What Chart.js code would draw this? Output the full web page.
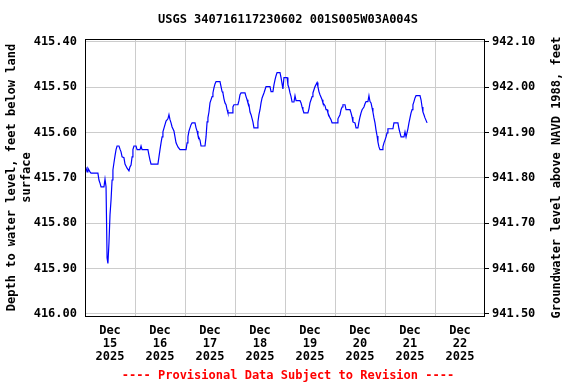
<!DOCTYPE html>
<html>
<head>
<meta charset="utf-8">
<title>USGS 340716117230602 001S005W03A004S</title>
<script src="https://cdn.jsdelivr.net/npm/chart.js@4/dist/chart.umd.min.js"></script>
<style>
    html, body { margin: 0; padding: 0; background: #fff; }
    canvas { display: block; }
</style>
</head>
<body>
<canvas id="chart" width="576" height="384"></canvas>
<script>
var siteTitle = 'USGS 340716117230602 001S005W03A004S';
var footerText = '---- Provisional Data Subject to Revision ----';

// hours since Dec 15 2025 00:00
var hoursSinceStart = [
    0, 0.5, 1.0, 1.4, 2.4, 2.9, 6.2, 6.7, 7.2, 7.7, 9.1, 9.6, 10.1, 10.6, 11.0, 11.5, 12.0, 12.5, 13.0, 13.4,
    13.9, 14.4, 14.9, 15.4, 16.3, 16.8, 17.3, 17.8, 18.7, 19.2, 20.2, 21.1, 21.6, 22.1, 22.6, 23.0, 23.5, 24.5, 25.0, 26.4,
    26.9, 27.4, 30.2, 30.7, 31.2, 31.7, 35.0, 35.5, 36.0, 36.5, 37.0, 37.4, 38.4, 38.9, 39.8, 40.3, 40.8, 41.3, 41.8, 42.7,
    43.2, 43.7, 44.6, 45.6, 48.5, 49.0, 49.4, 49.9, 50.9, 51.4, 52.8, 53.3, 53.8, 54.2, 55.2, 55.7, 57.6, 58.1, 58.6, 59.0,
    59.5, 60.0, 61.0, 61.4, 61.9, 62.4, 62.9, 64.8, 65.3, 65.8, 66.2, 66.7, 67.2, 67.7, 68.2, 68.6, 70.6, 71.0, 71.5, 73.4,
    73.9, 74.4, 74.9, 76.8, 77.3, 77.8, 78.2, 78.7, 79.2, 79.7, 80.6, 81.1, 82.6, 83.0, 83.5, 84.0, 84.5, 85.0, 85.9, 86.4,
    86.9, 88.8, 89.3, 90.2, 90.7, 91.2, 91.7, 92.2, 93.6, 94.1, 94.6, 95.0, 95.5, 97.0, 97.4, 97.9, 98.4, 98.9, 99.4, 100.3,
    100.8, 101.3, 103.2, 103.7, 104.2, 104.6, 105.1, 107.0, 107.5, 108.0, 108.5, 109.0, 109.4, 109.9, 110.4, 111.4, 111.8, 112.3, 112.8, 113.8,
    114.2, 115.2, 115.7, 116.2, 116.6, 117.6, 118.1, 118.6, 121.0, 121.4, 122.4, 122.9, 123.4, 123.8, 124.8, 125.3, 127.2, 127.7, 128.2, 128.6,
    129.6, 130.1, 131.0, 131.5, 132.0, 132.5, 133.0, 133.9, 134.4, 134.9, 135.8, 136.3, 136.8, 137.3, 137.8, 138.2, 138.7, 139.2, 139.7, 140.2,
    140.6, 141.1, 141.6, 142.6, 143.0, 143.5, 144.0, 144.5, 145.0, 145.4, 147.8, 148.3, 150.2, 150.7, 151.2, 151.7, 153.1, 153.6, 154.1, 155.0,
    155.5, 156.0, 156.5, 157.0, 157.4, 157.9, 158.4, 158.9, 160.8, 161.3, 161.8, 162.2, 162.7, 163.2, 164.2
];

// depth to water level, feet below land surface
var depthFt = [
    415.683, 415.679, 415.687, 415.679, 415.687, 415.690, 415.690, 415.705, 415.712, 415.720, 415.720, 415.703, 415.720, 415.877, 415.889, 415.844, 415.782, 415.749, 415.705, 415.683,
    415.667, 415.652, 415.638, 415.630, 415.630, 415.637, 415.643, 415.654, 415.656, 415.670, 415.679, 415.685, 415.676, 415.672, 415.654, 415.638, 415.630, 415.630, 415.638, 415.638,
    415.630, 415.638, 415.638, 415.650, 415.661, 415.670, 415.670, 415.654, 415.638, 415.623, 415.610, 415.599, 415.583, 415.575, 415.570, 415.561, 415.572, 415.579, 415.588, 415.597,
    415.610, 415.623, 415.632, 415.638, 415.638, 415.623, 415.610, 415.597, 415.583, 415.579, 415.579, 415.590, 415.597, 415.606, 415.617, 415.630, 415.630, 415.610, 415.577, 415.568,
    415.555, 415.535, 415.521, 415.513, 415.502, 415.493, 415.488, 415.488, 415.499, 415.510, 415.513, 415.526, 415.535, 415.539, 415.550, 415.557, 415.557, 415.544, 415.539, 415.539,
    415.530, 415.517, 415.513, 415.513, 415.521, 415.528, 415.535, 415.539, 415.555, 415.561, 415.577, 415.590, 415.590, 415.577, 415.561, 415.550, 415.535, 415.524, 415.513, 415.506,
    415.499, 415.499, 415.510, 415.510, 415.495, 415.484, 415.475, 415.468, 415.468, 415.479, 415.493, 415.504, 415.479, 415.479, 415.495, 415.502, 415.513, 415.521, 415.533, 415.533,
    415.519, 415.530, 415.530, 415.535, 415.544, 415.550, 415.557, 415.557, 415.548, 415.535, 415.528, 415.521, 415.513, 415.506, 415.499, 415.490, 415.499, 415.510, 415.517, 415.528,
    415.535, 415.541, 415.550, 415.550, 415.557, 415.568, 415.572, 415.579, 415.579, 415.570, 415.561, 415.550, 415.544, 415.539, 415.539, 415.550, 415.550, 415.557, 415.566, 415.577,
    415.579, 415.590, 415.590, 415.577, 415.566, 415.557, 415.550, 415.544, 415.537, 415.532, 415.532, 415.519, 415.532, 415.535, 415.546, 415.555, 415.568, 415.579, 415.595, 415.608,
    415.621, 415.632, 415.638, 415.638, 415.632, 415.623, 415.617, 415.610, 415.601, 415.592, 415.592, 415.579, 415.579, 415.592, 415.601, 415.610, 415.610, 415.599, 415.610, 415.592,
    415.579, 415.568, 415.557, 415.550, 415.539, 415.532, 415.524, 415.519, 415.519, 415.528, 415.544, 415.555, 415.561, 415.568, 415.579
];

var monthLabel = 'Dec';
var yearLabel = '2025';
var dayLabels = ['15', '16', '17', '18', '19', '20', '21', '22'];
var depthTicks = [415.40, 415.50, 415.60, 415.70, 415.80, 415.90, 416.00];
var elevationTicks = [941.50, 941.60, 941.70, 941.80, 941.90, 942.00, 942.10];
var datumSum = 1357.50; // depth + elevation

var depthMin = 415.394, depthMax = 416.005;

var points = hoursSinceStart.map(function (h, i) {
    return { x: h, y: depthFt[i] };
});

Chart.defaults.font.family = "'DejaVu Sans Mono', 'Liberation Mono', monospace";
Chart.defaults.font.size = 12;
Chart.defaults.font.weight = 'bold';
Chart.defaults.color = '#000';

var framePlugin = {
    id: 'frame',
    afterDraw: function (chart) {
        var ctx = chart.ctx;
        var a = chart.chartArea;
        ctx.save();
        ctx.strokeStyle = '#000';
        ctx.lineWidth = 1;
        ctx.strokeRect(Math.round(a.left) + 0.5, Math.round(a.top) + 0.5,
            Math.round(a.right - a.left) - 1, Math.round(a.bottom - a.top));
        // right axis title, reads bottom to top
        ctx.translate(557, (a.top + a.bottom) / 2);
        ctx.rotate(-Math.PI / 2);
        ctx.font = "bold 12px 'DejaVu Sans Mono', monospace";
        ctx.fillStyle = '#000';
        ctx.textAlign = 'center';
        ctx.textBaseline = 'middle';
        ctx.fillText('Groundwater level above NAVD 1988, feet', 0, 0);
        ctx.restore();
    }
};

new Chart(document.getElementById('chart'), {
    type: 'line',
    data: {
        datasets: [{
            data: points,
            borderColor: '#0000ff',
            borderWidth: 1.2,
            pointRadius: 0,
            fill: false,
            tension: 0
        }]
    },
    options: {
        responsive: false,
        animation: false,
        layout: { padding: 0 },
        plugins: {
            legend: { display: false },
            tooltip: { enabled: false },
            title: {
                display: true,
                text: siteTitle,
                font: { size: 12, weight: 'bold', lineHeight: 1.2 },
                padding: { top: 13, bottom: 11.6 }
            },
            subtitle: {
                display: true,
                position: 'bottom',
                text: footerText,
                color: '#ff0000',
                font: { size: 12, weight: 'bold', lineHeight: 1.2 },
                padding: { top: 5, bottom: 1 }
            }
        },
        scales: {
            x: {
                type: 'linear',
                min: 0,
                max: 192,
                afterBuildTicks: function (scale) {
                    var t = [];
                    for (var h = 0; h <= 192; h += 12) t.push({ value: h });
                    scale.ticks = t;
                },
                afterFit: function (scale) { scale.height = 47.6; },
                grid: {
                    drawTicks: false,
                    color: function (c) {
                        var v = c.tick ? c.tick.value : -1;
                        return (v > 0 && v < 192 && v % 24 === 0) ? '#cccccc' : 'rgba(0,0,0,0)';
                    }
                },
                border: { display: false },
                ticks: {
                    autoSkip: false,
                    maxRotation: 0,
                    padding: 8,
                    font: { size: 12, weight: 'bold', lineHeight: 1.1 },
                    callback: function (value) {
                        if (value % 24 !== 12) return '';
                        var i = (value - 12) / 24;
                        return [monthLabel, dayLabels[i], yearLabel];
                    }
                }
            },
            y: {
                position: 'left',
                reverse: true,
                min: depthMin,
                max: depthMax,
                afterBuildTicks: function (scale) {
                    scale.ticks = depthTicks.map(function (v) { return { value: v }; });
                },
                afterFit: function (scale) { scale.width = 85; },
                grid: { color: '#cccccc', drawTicks: false },
                border: { display: false },
                ticks: {
                    padding: 8,
                    callback: function (v) { return v.toFixed(2); }
                },
                title: {
                    display: true,
                    text: ['Depth to water level, feet below land', 'surface'],
                    font: { size: 12, weight: 'bold', lineHeight: 1.2 },
                    padding: { top: 4.8, bottom: 0 }
                }
            },
            y2: {
                position: 'right',
                min: datumSum - depthMax,
                max: datumSum - depthMin,
                afterBuildTicks: function (scale) {
                    scale.ticks = elevationTicks.map(function (v) { return { value: v }; });
                },
                afterFit: function (scale) { scale.width = 91; },
                grid: { drawOnChartArea: false, drawTicks: true, tickLength: 4, color: '#000' },
                border: { display: false },
                ticks: {
                    padding: 3,
                    callback: function (v) { return v.toFixed(2); }
                }
            }
        }
    },
    plugins: [framePlugin]
});
</script>
</body>
</html>
